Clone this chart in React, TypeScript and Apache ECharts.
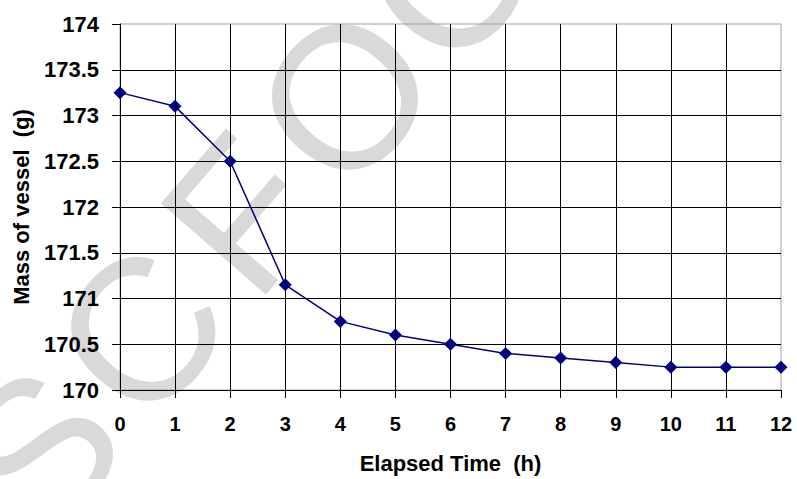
import React, { useEffect, useRef } from "react";
import * as echarts from "echarts";

const hours = [0, 1, 2, 3, 4, 5, 6, 7, 8, 9, 10, 11, 12];
const massValues = [173.25, 173.1, 172.5, 171.15, 170.75, 170.6, 170.5, 170.4, 170.35, 170.3, 170.25, 170.25, 170.25];
const xAxisTitle = "Elapsed Time  (h)";
const yAxisTitle = "Mass of vessel  (g)";
const watermarkLetters = ["S", "C", "F", "O", "C"];

const FONT = "Arial, 'Liberation Sans', Helvetica, sans-serif";

export default function App() {
  const ref = useRef<HTMLDivElement>(null);
  useEffect(() => {
    document.body.style.margin = "0";
    if (!ref.current) return;
    const chart = echarts.init(ref.current, null, { renderer: "svg" });
    const angle = (49 * Math.PI) / 180;
    const startX = 38;
    const startY = 450;
    const step = 156;
    const watermark = watermarkLetters.map((ch, i) => ({
      type: "text",
      z: -10,
      silent: true,
      x: startX + i * step * Math.cos(angle),
      y: startY - i * step * Math.sin(angle),
      rotation: angle,
      style: {
        text: ch,
        fontFamily: FONT,
        fontSize: 202,
        fill: "#d9d9d9",
        textAlign: "center",
        textVerticalAlign: "middle",
      },
    }));
    chart.setOption({
      animation: false,
      backgroundColor: "#ffffff",
      graphic: watermark,
      grid: {
        left: 120,
        top: 24,
        right: 16,
        bottom: 87,
        show: true,
        borderColor: "#a0a0a0",
        borderWidth: 1,
        backgroundColor: "transparent",
      },
      xAxis: {
        type: "value",
        min: 0,
        max: 12,
        interval: 1,
        name: xAxisTitle,
        nameLocation: "middle",
        nameGap: 62,
        nameTextStyle: { fontFamily: FONT, fontWeight: "bold", fontSize: 22, color: "#000" },
        axisLine: { show: true, lineStyle: { color: "#000", width: 1 } },
        axisTick: { show: true, inside: false, length: 8, lineStyle: { color: "#000" } },
        axisLabel: { fontFamily: FONT, fontWeight: "bold", fontSize: 20, color: "#000", margin: 24 },
        splitLine: { show: true, showMaxLine: false, lineStyle: { color: "#000", width: 1 } },
      },
      yAxis: {
        type: "value",
        min: 170,
        max: 174,
        interval: 0.5,
        name: yAxisTitle,
        nameLocation: "middle",
        nameGap: 88,
        nameTextStyle: { fontFamily: FONT, fontWeight: "bold", fontSize: 22, color: "#000" },
        axisLine: { show: true, lineStyle: { color: "#000", width: 1 } },
        axisTick: { show: true, inside: false, length: 8, lineStyle: { color: "#000" } },
        axisLabel: { fontFamily: FONT, fontWeight: "bold", fontSize: 22, color: "#000", margin: 21 },
        splitLine: { show: true, showMaxLine: false, lineStyle: { color: "#000", width: 1 } },
      },
      series: [
        {
          type: "line",
          data: hours.map((h, i) => [h, massValues[i]]),
          symbol: "diamond",
          symbolSize: 13,
          itemStyle: { color: "#000080" },
          lineStyle: { color: "#000080", width: 1.5 },
          z: 5,
        },
      ],
    });
    return () => chart.dispose();
  }, []);
  return <div ref={ref} style={{ width: 797, height: 479 }} />;
}
